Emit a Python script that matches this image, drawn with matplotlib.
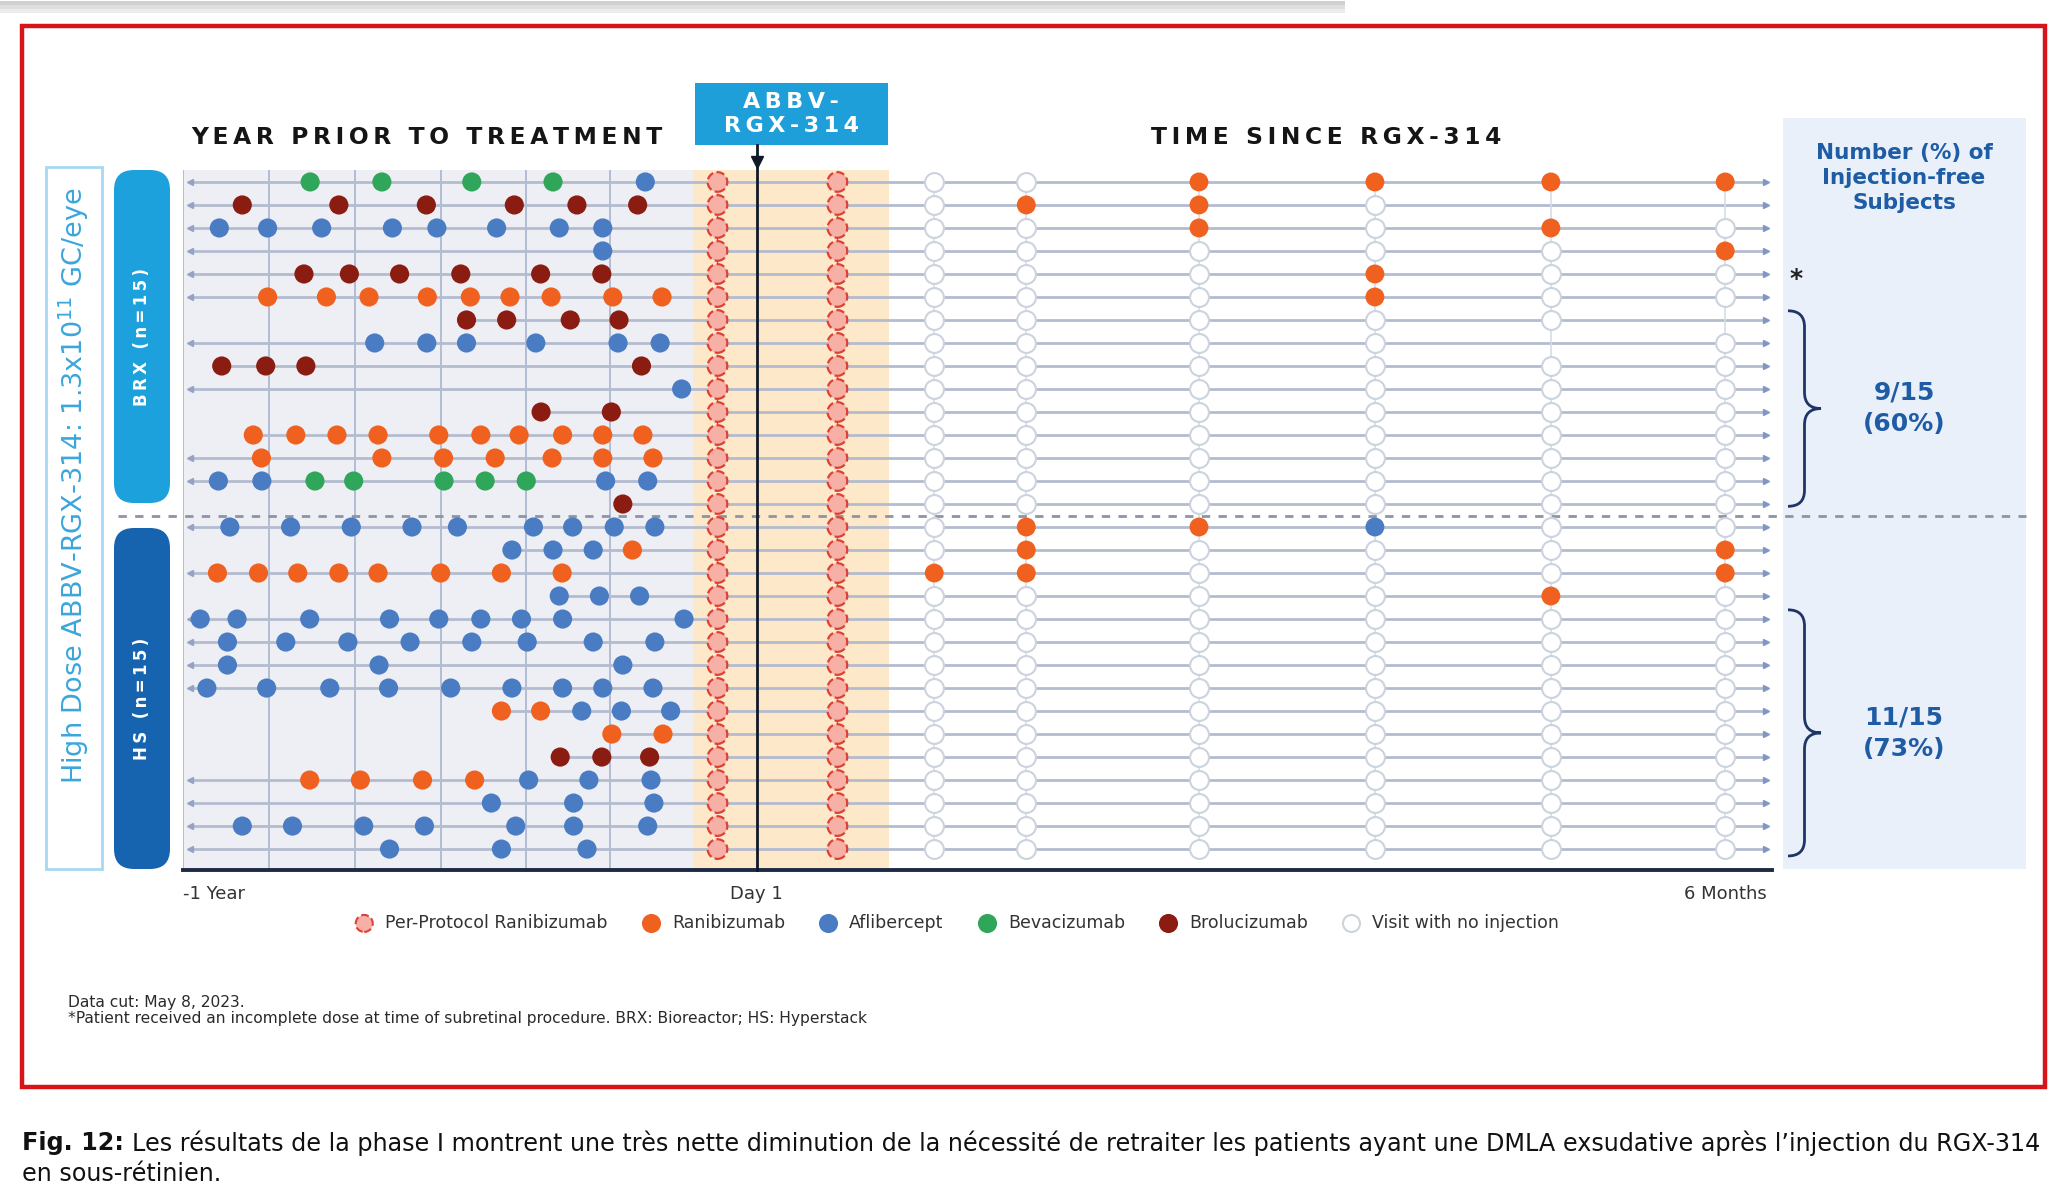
import numpy as np
import matplotlib.pyplot as plt
import matplotlib.transforms as mtransforms
from matplotlib import font_manager
from matplotlib.patches import Rectangle, FancyBboxPatch, PathPatch
from matplotlib.path import Path
from matplotlib.ticker import NullLocator

W, H, DPI = 2048, 1186, 100

# ---------------- data ----------------
# rows 0-14 = BRX cohort, rows 15-29 = HS cohort (top to bottom)
n_rows = 30
# injections in the year before treatment: {row: months relative to Day 1}
aflibercept_pre = {
    0: [-2.33],
    2: [-11.24, -10.23, -9.10, -7.62, -6.69, -5.44, -4.13, -3.22],
    3: [-3.22],
    7: [-7.99, -6.90, -6.07, -4.62, -2.90, -2.02],
    9: [-1.57],
    13: [-11.26, -10.35, -3.16, -2.28],
    15: [-11.02, -9.75, -8.48, -7.21, -6.26, -4.67, -3.85, -2.98, -2.13],
    16: [-5.12, -4.26, -3.42],
    18: [-4.13, -3.29, -2.45],
    19: [-11.64, -10.87, -9.35, -7.68, -6.65, -5.77, -4.92, -4.06, -1.52],
    20: [-11.07, -9.85, -8.55, -7.25, -5.96, -4.80, -3.42, -2.13],
    21: [-11.07, -7.90, -2.80],
    22: [-11.50, -10.25, -8.93, -7.70, -6.40, -5.12, -4.06, -3.22, -2.17],
    23: [-3.66, -2.83, -1.80],
    26: [-4.77, -3.51, -2.21],
    27: [-5.55, -3.83, -2.15],
    28: [-10.76, -9.71, -8.22, -6.95, -5.04, -3.83, -2.28],
    29: [-7.68, -5.34, -3.55],
}
ranibizumab_pre = {
    5: [-10.23, -9.00, -8.11, -6.89, -5.99, -5.16, -4.30, -3.01, -1.98],
    11: [-10.53, -9.64, -8.78, -7.92, -6.65, -5.77, -4.97, -4.06, -3.22, -2.38],
    12: [-10.36, -7.84, -6.55, -5.47, -4.28, -3.22, -2.17],
    16: [-2.60],
    17: [-11.28, -10.42, -9.60, -8.74, -7.92, -6.61, -5.34, -4.07],
    23: [-5.34, -4.52],
    24: [-3.03, -1.96],
    26: [-9.35, -8.29, -6.99, -5.90],
}
bevacizumab_pre = {
    0: [-9.34, -7.84, -5.96, -4.26],
    13: [-9.24, -8.43, -6.54, -5.68, -4.82],
}
brolucizumab_pre = {
    1: [-10.76, -8.74, -6.91, -5.07, -3.76, -2.49],
    4: [-9.47, -8.52, -7.47, -6.19, -4.52, -3.24],
    6: [-6.07, -5.23, -3.90, -2.88],
    8: [-11.19, -10.27, -9.43, -2.41],
    10: [-4.51, -3.04],
    14: [-2.80],
    25: [-4.11, -3.24, -2.24],
}
# rows whose history starts before the plotted year
rows_with_earlier_history = [0, 1, 2, 3, 4, 5, 7, 9, 12, 13,
                             15, 17, 19, 20, 21, 22, 26, 27, 28, 29]

per_protocol_months = [-0.82, 0.5]
visit_months = [1.10, 1.67, 2.74, 3.83, 4.92, 6.00]
# per visit: one char per row  o = visit, no injection | R = ranibizumab | A = aflibercept | - = no visit
visit_status = [
    "ooooooooooooooo" + "ooRoooooooooooo",
    "oRooooooooooooo" + "RRRoooooooooooo",
    "RRRoooooooooooo" + "Roooooooooooooo",
    "RoooRRooooooooo" + "Aoooooooooooooo",
    "R-Roooo-ooooooo" + "oooRooooooooooo",
    "R-oRoo-oooooooo" + "oRRoooooooooooo",
]
pre_grid_months = [-12, -10.2, -8.4, -6.6, -4.82, -3.07]
injection_free_rows = [(5.6, 14.1, "9/15\n(60%)"), (18.6, 29.3, "11/15\n(73%)")]

# ---------------- style ----------------
RANI, AFLI, BEVA, BROL = '#f0611f', '#4a7cc3', '#2fa65a', '#8b1c12'
PP_FACE, PP_EDGE = '#f7b0a6', '#dd4136'
VISIT_EDGE = '#cdd3de'
ROW_LINE = '#b3bccf'
NAVY = '#1d2a44'
PANEL_TXT = '#1f5ca6'

available = {f.name for f in font_manager.fontManager.ttflist}
NARROW = 'Liberation Sans Narrow' if 'Liberation Sans Narrow' in available else 'DejaVu Sans'
narrow_scale = 1.2 if NARROW != 'DejaVu Sans' else 1.0


def fx(px):
    return px / W


def fy(py):
    return 1 - py / H


def spaced(s):
    return '\u2009'.join(s)


fig = plt.figure(figsize=(W / DPI, H / DPI), dpi=DPI)

# page shadow at top
for i, c in enumerate(['#d0d0d0', '#dedede', '#ececec']):
    fig.patches.append(Rectangle((0, fy(5 + 4 * i)), fx(1345), 4 / H,
                                 transform=fig.transFigure, color=c, lw=0, zorder=-2))
# red frame
fig.patches.append(Rectangle((fx(22), fy(1087)), fx(2045) - fx(22), (1087 - 26) / H,
                             transform=fig.transFigure, fill=False, ec='#d7141a', lw=3.2,
                             zorder=-2))
# right panel
fig.patches.append(Rectangle((fx(1783), fy(869)), fx(2026) - fx(1783), (869 - 118) / H,
                             transform=fig.transFigure, color='#e9f0f9', lw=0, zorder=-2))

# ---------------- main axes ----------------
PRE_W = 574.0 / 12
POST_W = 969.0 / 6


def fwd(x):
    x = np.asarray(x, float)
    return np.where(x < 0, (x + 12) * PRE_W, 12 * PRE_W + x * POST_W)


def inv(u):
    u = np.asarray(u, float)
    return np.where(u < 12 * PRE_W, u / PRE_W - 12, (u - 12 * PRE_W) / POST_W)


ax = fig.add_axes([fx(183), fy(870), fx(1772) - fx(183), (870 - 170) / H])
ax.set_xscale('function', functions=(fwd, inv))
ax.set_xlim(-12, 6.29)
ax.set_ylim(29.91, -0.52)
ax.patch.set_alpha(0)

ax.axvspan(-12, -1.34, color='#eeeff5', lw=0, zorder=0)
ax.axvspan(-1.34, 0.82, color='#fde9c9', lw=0, zorder=0)
for g in pre_grid_months:
    ax.axvline(g, color='#a8b5d0', lw=1.2, zorder=1)

# row lines
first_inj = {}
for d in (aflibercept_pre, ranibizumab_pre, bevacizumab_pre, brolucizumab_pre):
    for r, ms in d.items():
        first_inj[r] = min(first_inj.get(r, 0), min(ms))
for r in range(n_rows):
    start = -11.85 if r in rows_with_earlier_history else first_inj.get(r, per_protocol_months[0])
    ax.plot([start, 6.25], [r, r], color=ROW_LINE, lw=2, zorder=2, solid_capstyle='butt')
    ax.plot(6.25, r, marker='>', ms=5, color='#7f97c4', zorder=3)
    if r in rows_with_earlier_history:
        ax.plot(-11.85, r, marker='<', ms=5, color='#93a3c4', zorder=3)

# vertical chains
for m in visit_months:
    ax.plot([m, m], [0, n_rows - 1], color='#d6dce6', lw=1.2, zorder=2)
for m in per_protocol_months:
    ax.plot([m, m], [0, n_rows - 1], color=PP_EDGE, lw=1.0, ls=(0, (2, 2)), zorder=2)

# pre-treatment injections
for d, col in ((aflibercept_pre, AFLI), (ranibizumab_pre, RANI),
               (bevacizumab_pre, BEVA), (brolucizumab_pre, BROL)):
    xs = [m for r, ms in d.items() for m in ms]
    ys = [r for r, ms in d.items() for m in ms]
    ax.scatter(xs, ys, s=190, color=col, edgecolors='none', zorder=5)

# per protocol ranibizumab
for m in per_protocol_months:
    ax.scatter([m] * n_rows, range(n_rows), s=200, facecolors=PP_FACE,
               edgecolors=PP_EDGE, linewidths=1.6, linestyle='--', zorder=5)

# post-treatment visits
status_colors = {'o': 'white', 'R': RANI, 'A': AFLI}
for m, st in zip(visit_months, visit_status):
    for code, fc in status_colors.items():
        rows = [r for r, c in enumerate(st) if c == code]
        if not rows:
            continue
        ec = VISIT_EDGE if code == 'o' else 'none'
        ax.scatter([m] * len(rows), rows, s=185, facecolors=fc, edgecolors=ec,
                   linewidths=1.5, zorder=5)

# Day 1 marker
ax.plot([0, 0], [-1.61, 29.91], color='#111827', lw=2, zorder=6, clip_on=False)
ax.plot(0, -0.85, marker='v', ms=8, color='#111827', zorder=6, clip_on=False)

# axes decoration
for s in ('top', 'left', 'right'):
    ax.spines[s].set_visible(False)
ax.spines['bottom'].set_color(NAVY)
ax.spines['bottom'].set_linewidth(2.8)
ax.set_yticks([])
ax.set_xticks([-12, 0, 6])
ax.set_xticklabels(['-1 Year', 'Day 1', '6 Months'], family=[NARROW, 'DejaVu Sans'],
                   fontsize=13 * narrow_scale, color='#333333')
ax.get_xticklabels()[0].set_ha('left')
ax.xaxis.set_minor_locator(NullLocator())
ax.tick_params(axis='x', length=0, pad=11)

# blended transform: x in figure fraction, y in rows
bt = mtransforms.blended_transform_factory(fig.transFigure, ax.transData)
ax.plot([fx(118), fx(2026)], [14.52, 14.52], transform=bt, color='#8c95a6', lw=2,
        ls=(0, (3, 3)), clip_on=False, zorder=3)
ax.text(fx(1796), 4.2, '*', transform=bt, fontsize=18, fontweight='bold',
        ha='center', va='center', color='#222222')


def brace(y0, y1, x0, x1, r=0.7):
    xm, ym = (x0 + x1) / 2, (y0 + y1) / 2
    verts = [(x0, y0), (xm, y0), (xm, y0 + r), (xm, ym - r), (xm, ym), (x1, ym),
             (xm, ym), (xm, ym + r), (xm, y1 - r), (xm, y1), (x0, y1)]
    codes = [Path.MOVETO, Path.CURVE3, Path.CURVE3, Path.LINETO, Path.CURVE3, Path.CURVE3,
             Path.CURVE3, Path.CURVE3, Path.LINETO, Path.CURVE3, Path.CURVE3]
    return PathPatch(Path(verts, codes), transform=bt, fill=False, ec='#1f3566', lw=2,
                     clip_on=False)


for y0, y1, label in injection_free_rows:
    ax.add_patch(brace(y0, y1, fx(1788), fx(1821)))
    ax.text(fx(1904), (y0 + y1) / 2, label, transform=bt, ha='center', va='center',
            fontsize=18, fontweight='bold', color=PANEL_TXT, linespacing=1.4)

fig.text(fx(1904), fy(178), "Number (%) of\nInjection-free\nSubjects", ha='center', va='center',
         fontsize=15.5, fontweight='bold', color=PANEL_TXT, linespacing=1.3)

# headers
fig.text(fx(427), fy(137), spaced("YEAR PRIOR TO TREATMENT"), ha='center', va='center',
         fontsize=16.8, fontweight='bold', color='#151515')
fig.text(fx(1326), fy(137), spaced("TIME SINCE RGX-314"), ha='center', va='center',
         fontsize=16.8, fontweight='bold', color='#151515')
fig.patches.append(Rectangle((fx(695), fy(145)), fx(888) - fx(695), (145 - 83) / H,
                             transform=fig.transFigure, color='#1e9fd9', lw=0, zorder=-1))
fig.text(fx(791), fy(114), spaced("ABBV-") + "\n" + spaced("RGX-314"), ha='center', va='center',
         fontsize=16, fontweight='bold', color='white', linespacing=1.3)

# left cohort labels (inches, dpi 100)
fig.patches.append(Rectangle((0.46, (H - 869) / DPI), 0.56, (869 - 167) / DPI,
                             transform=fig.dpi_scale_trans, fc='white', ec='#a6d9f1', lw=2,
                             zorder=-1))
fig.text(fx(74), fy(486), r"High Dose ABBV-RGX-314: 1.3x10$^{11}$ GC/eye", rotation=90,
         ha='center', va='center', fontsize=19.5, color='#3aa6dc')
for (top, bot, col, label) in ((170, 503, '#1ca1dc', "BRX (n=15)"),
                               (528, 869, '#1663b0', "HS (n=15)")):
    fig.patches.append(FancyBboxPatch((1.14, (H - bot) / DPI), 0.56, (bot - top) / DPI,
                                      boxstyle='round,pad=0,rounding_size=0.2',
                                      transform=fig.dpi_scale_trans, color=col, lw=0,
                                      zorder=-1))
    fig.text(fx(142), fy((top + bot) / 2), spaced(label), rotation=90, ha='center', va='center',
             fontsize=12, fontweight='bold', color='white')

# legend
legend_items = [
    ("Per-Protocol Ranibizumab", PP_FACE, PP_EDGE, '--'),
    ("Ranibizumab", RANI, RANI, '-'),
    ("Aflibercept", AFLI, AFLI, '-'),
    ("Bevacizumab", BEVA, BEVA, '-'),
    ("Brolucizumab", BROL, BROL, '-'),
    ("Visit with no injection", 'white', VISIT_EDGE, '-'),
]
handles = [ax.scatter([], [], s=150, facecolors=fc, edgecolors=ec, linestyle=ls, linewidths=1.5)
           for _, fc, ec, ls in legend_items]
fig.legend(handles, [t for t, *_ in legend_items], loc='center',
           bbox_to_anchor=(fx(953), fy(923)), ncol=6, frameon=False,
           prop={'family': [NARROW, 'DejaVu Sans'], 'size': 12.5 * narrow_scale},
           labelcolor='#333333', handletextpad=0.2, columnspacing=1.5, scatterpoints=1)

# footnotes
fig.text(fx(68), fy(1002), "Data cut: May 8, 2023.", ha='left', va='center',
         fontsize=11.2 * narrow_scale, family=[NARROW, 'DejaVu Sans'], color='#2a2a2a')
fig.text(fx(68), fy(1019),
         "*Patient received an incomplete dose at time of subretinal procedure. "
         "BRX: Bioreactor; HS: Hyperstack",
         ha='left', va='center', fontsize=11.2 * narrow_scale, family=[NARROW, 'DejaVu Sans'],
         color='#2a2a2a')

# caption, fitted to the frame width
renderer = fig.canvas.get_renderer()
cap_fs = 16
rest1 = ("Les résultats de la phase I montrent une très nette diminution de la nécessité "
         "de retraiter les patients ayant une DMLA exsudative après l\u2019injection du RGX-314")
t_bold = fig.text(fx(22), fy(1143), "Fig. 12:", fontweight='bold', fontsize=cap_fs,
                  family=[NARROW, 'DejaVu Sans'], ha='left', va='center', color='#111111')
t_rest = fig.text(fx(22), fy(1143), rest1, fontsize=cap_fs, family=[NARROW, 'DejaVu Sans'],
                  ha='left', va='center', color='#111111')
wb = t_bold.get_window_extent(renderer).width
wr = t_rest.get_window_extent(renderer).width
scale = (2044 - 22 - 8) / (wb + wr)
cap_fs *= scale
t_bold.set_fontsize(cap_fs)
t_rest.set_fontsize(cap_fs)
wb = t_bold.get_window_extent(renderer).width
t_rest.set_x(fx(22 + wb + 8))
fig.text(fx(22), fy(1174), "en sous-rétinien.", fontsize=cap_fs, family=[NARROW, 'DejaVu Sans'],
         ha='left', va='center', color='#111111')

fig.savefig('out.png', dpi=DPI, facecolor='white')
